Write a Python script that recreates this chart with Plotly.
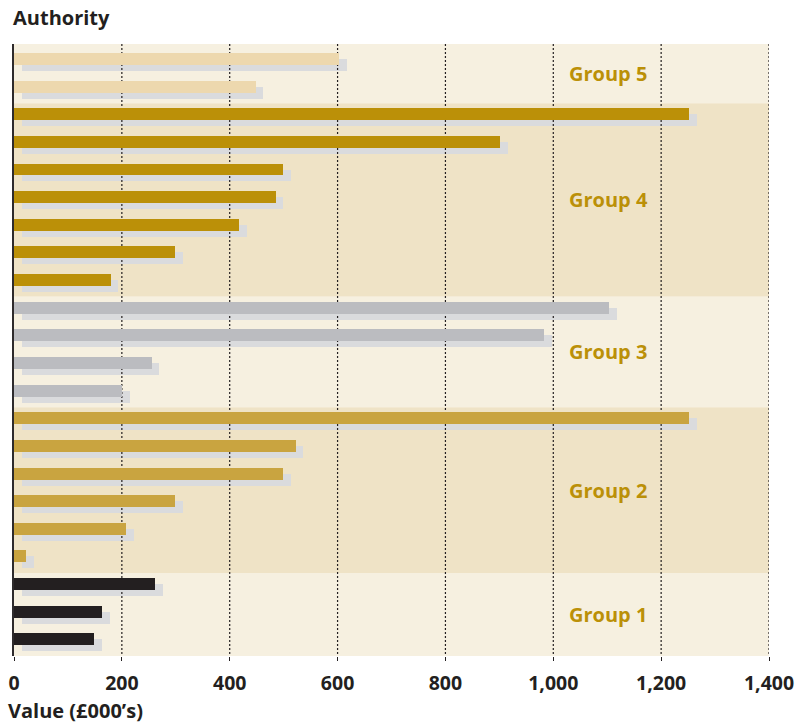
import plotly.graph_objects as go

# Values (£000's) per authority, listed top to bottom within each group
group_names = ["Group 5", "Group 4", "Group 3", "Group 2", "Group 1"]
values_g5 = [603, 448]
values_g4 = [1252, 902, 499, 485, 418, 299, 179]
values_g3 = [1104, 983, 255, 201]
values_g2 = [1252, 522, 499, 299, 208, 23]
values_g1 = [262, 164, 149]
group_values = [values_g5, values_g4, values_g3, values_g2, values_g1]

bar_colors = ["#EDD8AE", "#BB9008", "#BBBCC0", "#C9A440", "#231F20"]
band_colors = ["#F6F0E0", "#EFE3C6", "#F6F0E0", "#EFE3C6", "#F6F0E0"]
tick_values = [0, 200, 400, 600, 800, 1000, 1200, 1400]

INK = "#231F20"
LABEL_GOLD = "#BB9008"
SHADOW = "#DADBDD"
FONT = "Open Sans"

# Flatten into row positions (0 = top row)
values, colors, rows = [], [], []
for vals, col in zip(group_values, bar_colors):
    for v in vals:
        rows.append(len(rows))
        values.append(v)
        colors.append(col)

y_top = -0.54
y_bottom = len(rows) - 0.4
x_max = tick_values[-1]
bar_w = 0.434
shadow_shift_x = 14
shadow_shift_y = 0.217

fig = go.Figure()

# Drop shadows behind each bar
fig.add_trace(go.Bar(
    y=rows, x=values, base=shadow_shift_x, orientation="h",
    marker=dict(color=SHADOW, line=dict(width=0)),
    width=bar_w, offset=-bar_w / 2 + shadow_shift_y,
    hoverinfo="skip", showlegend=False,
))

# Dotted vertical gridlines, above the shadows but beneath the bars
gx, gy = [], []
for t in tick_values[1:]:
    gx += [t, t, None]
    gy += [y_top, y_bottom, None]
fig.add_trace(go.Scatter(
    x=gx, y=gy, mode="lines",
    line=dict(color=INK, width=1.2, dash="2px,2px"),
    hoverinfo="skip", showlegend=False,
))

# Main bars on an overlaid subplot so they sit above the gridlines
fig.add_trace(go.Bar(
    y=rows, x=values, orientation="h",
    marker=dict(color=colors, line=dict(width=0)),
    width=bar_w, offset=-bar_w / 2,
    xaxis="x2", yaxis="y2",
    hoverinfo="x", showlegend=False,
))

# Group background bands and labels
shapes, annotations = [], []
start = y_top
count = 0
for name, vals, band in zip(group_names, group_values, band_colors):
    count += len(vals)
    end = (count - 1) + 0.6 if count < len(rows) else y_bottom
    shapes.append(dict(
        type="rect", xref="paper", yref="y", x0=0, x1=1, y0=start, y1=end,
        fillcolor=band, line=dict(width=0), layer="below",
    ))
    annotations.append(dict(
        x=1102, y=(start + end) / 2, xref="x", yref="y", text=name,
        showarrow=False, xanchor="center", yanchor="middle",
        font=dict(family=FONT, size=20, color=LABEL_GOLD, weight="bold"),
    ))
    start = end

annotations.append(dict(
    x=-0.004, y=1.044, xref="paper", yref="paper", text="Authority",
    showarrow=False, xanchor="left", yanchor="middle",
    font=dict(family=FONT, size=20, color=INK, weight="bold"),
))
annotations.append(dict(
    x=-0.01, y=-0.089, xref="paper", yref="paper", text="Value (£000’s)",
    showarrow=False, xanchor="left", yanchor="middle",
    font=dict(family=FONT, size=20, color=INK, weight="bold"),
))

fig.update_layout(
    width=804, height=726,
    margin=dict(l=13.5, r=35, t=44, b=70, autoexpand=False),
    paper_bgcolor="white", plot_bgcolor="white",
    barmode="overlay", bargap=0,
    shapes=shapes, annotations=annotations,
    xaxis=dict(
        range=[0, x_max], tickvals=tick_values, tickformat=",",
        showgrid=False, zeroline=False, showline=False, automargin=False,
        ticks="outside", ticklen=4, tickwidth=1.2, tickcolor=INK,
        ticklabelstandoff=6,
        tickfont=dict(family=FONT, size=19.5, color=INK, weight="bold"),
    ),
    yaxis=dict(
        range=[y_bottom, y_top], showgrid=False, zeroline=False,
        showticklabels=False, ticks="", automargin=False,
        showline=True, linecolor="#2E2B2C", linewidth=2,
    ),
    xaxis2=dict(overlaying="x", range=[0, x_max], visible=False),
    yaxis2=dict(overlaying="y", range=[y_bottom, y_top], visible=False),
)

fig.write_html("out.html")
